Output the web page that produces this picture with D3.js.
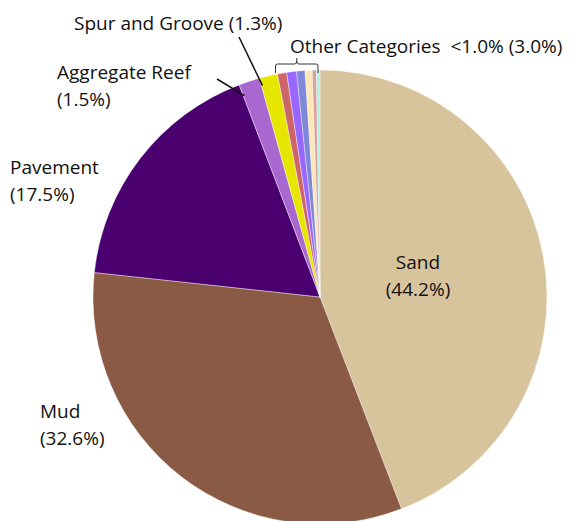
<!DOCTYPE html>
<html>
<head>
<meta charset="utf-8">
<script src="https://cdn.jsdelivr.net/npm/d3@7"></script>
<style>
  body { margin: 0; background: #fff; }
  svg text { font-family: "Open Sans", Lato, sans-serif; font-size: 19px; fill: #111; white-space: pre; }
</style>
</head>
<body>
<svg id="chart" width="576" height="521"></svg>
<script>
// habitat categories, clockwise from 12 o'clock
var categories = ["Sand", "Mud", "Pavement", "Aggregate Reef", "Spur and Groove",
    "Other 1", "Other 2", "Other 3", "Other 4", "Other 5", "Other 6"];
var percents = [44.2, 32.6, 17.5, 1.5, 1.3, 0.65, 0.7, 0.6, 0.5, 0.3, 0.25];
var colors = ["#d8c49c", "#8b5a44", "#4b0070", "#a868d0", "#e6e600",
    "#cc6666", "#9966ff", "#7f88d8", "#fde7b8", "#d9a0a0", "#b0f0e0"];

var svg = d3.select("#chart");
var cx = 320, cy = 297, radius = 227;

var g = svg.append("g").attr("transform", "translate(" + cx + "," + cy + ")");

var pie = d3.pie().sort(null).value(function (d) { return d; });
var arc = d3.arc().innerRadius(0).outerRadius(radius);
var arcs = pie(percents);

g.selectAll("path.slice")
    .data(arcs)
    .enter()
    .append("path")
    .attr("class", "slice")
    .attr("d", arc)
    .attr("fill", function (d, i) { return colors[i]; })
    .attr("stroke", "#fff")
    .attr("stroke-width", 0.4);

function pt(a, r) {
    return [cx + r * Math.sin(a), cy - r * Math.cos(a)];
}

// labels
function label(lines, x, y, anchor) {
    var t = svg.append("text").attr("text-anchor", anchor || "start");
    lines.forEach(function (s, i) {
        t.append("tspan").attr("x", x).attr("y", y + i * 27).text(s);
    });
}
label(["Sand", "(" + percents[0].toFixed(1) + "%)"], 418, 269, "middle");
label(["Mud", "(" + percents[1].toFixed(1) + "%)"], 40, 418);
label(["Pavement", "(" + percents[2].toFixed(1) + "%)"], 10, 174);
label(["Aggregate Reef", "(" + percents[3].toFixed(1) + "%)"], 57, 79);
label(["Spur and Groove (" + percents[4].toFixed(1) + "%)"], 74, 30);

var otherSum = d3.sum(percents.slice(5));
label(["Other Categories  <1.0% (" + otherSum.toFixed(1) + "%)"], 290, 53);

// leader lines
var ag = arcs[3], sp = arcs[4];
var a1 = pt(ag.startAngle + 0.05 * (ag.endAngle - ag.startAngle), radius - 12);
svg.append("line").attr("x1", 217).attr("y1", 79).attr("x2", a1[0]).attr("y2", a1[1])
    .attr("stroke", "#111").attr("stroke-width", 1.5);
var a2 = pt(sp.startAngle + 0.05 * (sp.endAngle - sp.startAngle), radius - 8);
svg.append("line").attr("x1", 239).attr("y1", 37).attr("x2", a2[0]).attr("y2", a2[1])
    .attr("stroke", "#111").attr("stroke-width", 1.5);

// bracket over the small categories
var b0 = pt(arcs[5].startAngle, radius), b1 = pt(arcs[arcs.length - 1].endAngle, radius);
var bx0 = b0[0] - 2, bx1 = b1[0] - 2, by = 64, bm = (bx0 + bx1) / 2;
svg.append("path")
    .attr("d", "M" + bx0 + "," + (by + 9) + " L" + bx0 + "," + (by + 2) + " Q" + bx0 + "," + by + " " + (bx0 + 2) + "," + by +
        " L" + (bm - 2) + "," + by + " Q" + bm + "," + by + " " + bm + "," + (by - 3) + " L" + bm + "," + (by - 6) +
        " M" + bm + "," + (by - 3) + " Q" + bm + "," + by + " " + (bm + 2) + "," + by +
        " L" + (bx1 - 2) + "," + by + " Q" + bx1 + "," + by + " " + bx1 + "," + (by + 2) + " L" + bx1 + "," + (by + 9))
    .attr("fill", "none")
    .attr("stroke", "#333")
    .attr("stroke-width", 1);
</script>
</body>
</html>
